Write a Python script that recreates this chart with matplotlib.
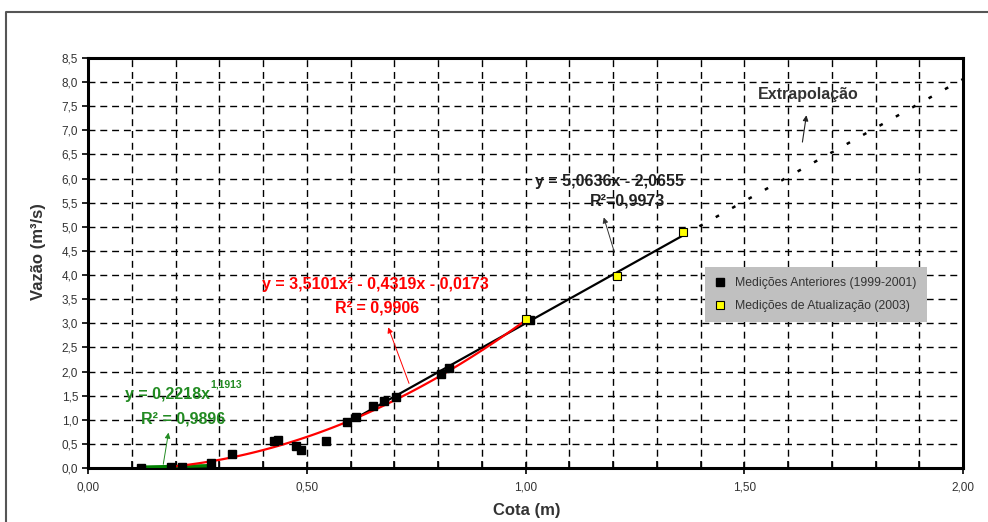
import numpy as np
import matplotlib
matplotlib.use("Agg")
import matplotlib.pyplot as plt
from matplotlib.lines import Line2D
from matplotlib.ticker import MultipleLocator, FuncFormatter

plt.rcParams['font.family'] = ['Liberation Sans', 'DejaVu Sans']

# medições anteriores (1999-2001)
cota_ant = [0.12, 0.19, 0.215, 0.28, 0.33, 0.425, 0.435, 0.475, 0.487, 0.543,
            0.592, 0.612, 0.652, 0.676, 0.703, 0.806, 0.825, 1.01]
vazao_ant = [0.0, 0.02, 0.03, 0.11, 0.29, 0.55, 0.59, 0.46, 0.37, 0.56,
             0.95, 1.05, 1.28, 1.38, 1.48, 1.94, 2.07, 3.07]
# medições de atualização (2003)
cota_atu = [1.0, 1.21, 1.36]
vazao_atu = [3.09, 3.98, 4.9]

# ajustes
pot_a, pot_b = 0.2218, 1.1913
pol_c = [3.5101, -0.4319, -0.0173]
lin_a, lin_b = 5.0636, -2.0655
x_pot = (0.12, 0.28)
x_pol = (0.19, 1.01)
x_lin = (0.59, 1.36)
x_ext = (1.36, 2.0)

fig = plt.figure(figsize=(9.88, 5.22), dpi=100)
ax = fig.add_axes([88/988, 1-468/522, 875/988, 410/522])

ax.set_xlim(0, 2.0)
ax.set_ylim(0, 8.5)
ax.xaxis.set_major_locator(MultipleLocator(0.5))
ax.xaxis.set_minor_locator(MultipleLocator(0.1))
ax.yaxis.set_major_locator(MultipleLocator(0.5))
ax.xaxis.set_major_formatter(FuncFormatter(lambda v, p: f"{v:.2f}".replace('.', ',')))
ax.yaxis.set_major_formatter(FuncFormatter(lambda v, p: f"{v:.1f}".replace('.', ',')))
ax.tick_params(axis='x', which='major', direction='inout', length=8, width=1.2,
               pad=6, labelsize=8.5, labelcolor='#333333')
ax.tick_params(axis='x', which='minor', direction='in', length=5, width=1.2)
ax.tick_params(axis='y', which='major', direction='out', length=4, width=1.2,
               pad=3, labelsize=8.5, labelcolor='#333333')
for s in ax.spines.values():
    s.set_linewidth(2.2)

dash = (0, (5, 3.5))
ax.grid(True, which='minor', axis='x', color='black', linewidth=1, linestyle=dash)
ax.grid(True, which='major', axis='x', color='black', linewidth=1, linestyle=dash)
ax.grid(True, which='major', axis='y', color='black', linewidth=1, linestyle=dash)
ax.set_axisbelow(True)

# curvas
xp = np.linspace(*x_pot, 50)
ax.plot(xp, pot_a*xp**pot_b, color='#008000', lw=2.4, zorder=3)
xq = np.linspace(*x_pol, 100)
ax.plot(xq, np.polyval(pol_c, xq), color='red', lw=1.6, zorder=4)
xl = np.array(x_lin)
ax.plot(xl, lin_a*xl + lin_b, color='black', lw=1.6, zorder=3)
xe = np.array(x_ext)
ax.plot(xe, lin_a*xe + lin_b, color='black', lw=1.8, linestyle=(0, (1.5, 6)), zorder=3)

ax.plot(cota_ant, vazao_ant, 's', color='black', ms=6, zorder=5,
        label='Medições Anteriores (1999-2001)')
ax.plot(cota_atu, vazao_atu, 's', color='#ffff00', mec='black', mew=0.8, ms=6, zorder=6,
        label='Medições de Atualização (2003)')

# equações
fs = 11.5
t = ax.text(0.085, 1.53, 'y = 0,2218x', color='#228B22', fontsize=fs, fontweight='bold',
            va='center', ha='left', zorder=7)
ax.annotate('1,1913', xy=(1.0, 0.8), xycoords=t, color='#228B22', fontsize=7.5,
            fontweight='bold', va='bottom', ha='left')
ax.text(0.218, 1.02, 'R² = 0,9896', color='#228B22', fontsize=fs, fontweight='bold',
        va='center', ha='center', zorder=7)
ax.annotate('', xy=(0.185, 0.79), xytext=(0.171, 0.02),
            arrowprops=dict(arrowstyle='-|>', color='#228B22', lw=0.7, mutation_scale=8))

ax.text(0.398, 3.80, 'y = 3,5101x² - 0,4319x - 0,0173', color='red', fontsize=fs,
        fontweight='bold', va='center', ha='left', zorder=7)
ax.text(0.661, 3.32, 'R² = 0,9906', color='red', fontsize=fs, fontweight='bold',
        va='center', ha='center', zorder=7)
ax.annotate('', xy=(0.684, 2.97), xytext=(0.736, 1.70),
            arrowprops=dict(arrowstyle='-|>', color='red', lw=0.7, mutation_scale=8))

ax.text(1.193, 5.93, 'y = 5,0636x - 2,0655', color='#222222', fontsize=fs,
        fontweight='bold', va='center', ha='center', zorder=7)
ax.text(1.232, 5.54, 'R²=0,9973', color='#222222', fontsize=fs,
        fontweight='bold', va='center', ha='center', zorder=7)
ax.annotate('', xy=(1.177, 5.25), xytext=(1.205, 4.42),
            arrowprops=dict(arrowstyle='-|>', color='#333333', lw=0.7, mutation_scale=8))

ax.text(1.531, 7.74, 'Extrapolação', color='#333333', fontsize=fs, fontweight='bold',
        va='center', ha='left', zorder=7)
ax.annotate('', xy=(1.643, 7.37), xytext=(1.632, 6.70),
            arrowprops=dict(arrowstyle='-|>', color='#222222', lw=0.8, mutation_scale=8))

leg = ax.legend(loc='upper left', bbox_to_anchor=(0.705, 0.49), fontsize=8.8,
                facecolor='#c0c0c0', edgecolor='none', framealpha=1, fancybox=False,
                borderpad=0.8, labelspacing=0.9, handletextpad=0.9, handlelength=0.8,
                borderaxespad=0)
for txt in leg.get_texts():
    txt.set_color('#333333')

fig.text(38/988, 1-252/522, 'Vazão (m³/s)', rotation=90, fontsize=12, fontweight='bold',
         color='#333333', ha='center', va='center')
fig.text(527/988, 1-510/522, 'Cota (m)', fontsize=12, fontweight='bold',
         color='#333333', ha='center', va='center')

# moldura externa
fig.add_artist(Line2D([6/988, 6/988, 1.0], [0.0, 1-12/522, 1-12/522],
                      transform=fig.transFigure, color='#555555', lw=1.5))

fig.savefig('out.png', dpi=100, facecolor='white')
